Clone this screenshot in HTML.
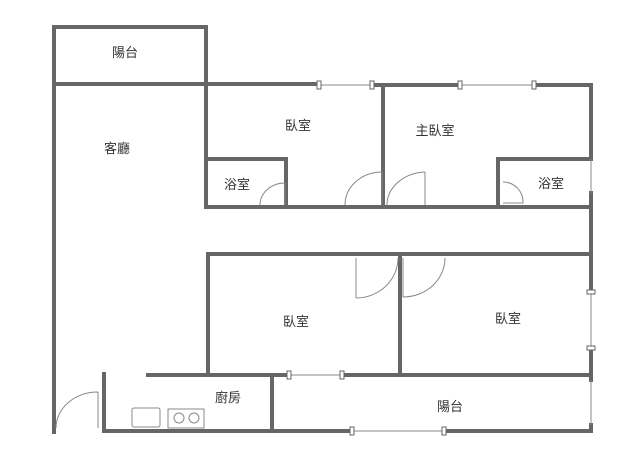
<!DOCTYPE html><html><head><style>body{margin:0;background:#fff}svg{display:block}text{font-family:"Liberation Sans","Noto Sans CJK TC",sans-serif;font-size:13px;fill:#333;text-anchor:middle}</style></head><body>
<svg width="640" height="461" viewBox="0 0 640 461">
<g stroke="#666" stroke-width="4" fill="none" stroke-linecap="square">
<path d="M54 27H206V84M54 27V432M54 84H319M372 85H460M534 85H591V159M591 193V254M591 290V255M591 348V380M208 207H591M206 84V207M206 159H286V205M383 85V207M498 207V159H591M208 375V254H591M400 254V375M148 375H289M342 375H591V380M104 374V431H352M444 431H591V425M272 375V431"/>
</g>
<g stroke="#888" stroke-width="1" fill="none">
<line x1="319" y1="85" x2="372" y2="85"/><line x1="460" y1="85" x2="534" y2="85"/>
<line x1="591" y1="159" x2="591" y2="193"/><line x1="591" y1="292" x2="591" y2="348"/>
<line x1="591" y1="380" x2="591" y2="425"/>
<line x1="289" y1="375" x2="342" y2="375"/><line x1="352" y1="431" x2="444" y2="431"/>
<path d="M285 183A25 22 0 0 0 260 205M285 183V205"/>
<path d="M382 172A37 33 0 0 0 345 205M382 172V205"/>
<path d="M425 172A40 33 0 0 0 387 205M425 172V205"/>
<path d="M503 182A20 20 0 0 1 523 203H503"/>
<path d="M356 298A42 40 0 0 0 398 258M356 258V298"/>
<path d="M403 297A42 39 0 0 0 445 258M403 258V297"/>
<path d="M98 392A42 36 0 0 0 56 428M98 392V428"/>
<rect x="132" y="408" width="28" height="19" rx="2"/><rect x="168" y="409" width="36" height="19"/>
<circle cx="179" cy="418" r="5"/><circle cx="194" cy="418" r="5"/>
</g>
<g fill="#fff" stroke="#666" stroke-width="1">
<rect x="317" y="81" width="4" height="8"/><rect x="370" y="81" width="4" height="8"/>
<rect x="458" y="81" width="4" height="8"/><rect x="532" y="81" width="4" height="8"/>
<rect x="587" y="290" width="8" height="4"/><rect x="587" y="346" width="8" height="4"/>
<rect x="287" y="371" width="4" height="8"/><rect x="340" y="371" width="4" height="8"/>
<rect x="350" y="427" width="4" height="8"/><rect x="442" y="427" width="4" height="8"/>
</g>
<text x="125" y="57">陽台</text><text x="117" y="153">客廳</text><text x="298" y="130">臥室</text>
<text x="435" y="135">主臥室</text><text x="237" y="189">浴室</text><text x="551" y="188">浴室</text>
<text x="296" y="326">臥室</text><text x="508" y="323">臥室</text><text x="228" y="402">廚房</text><text x="450" y="411">陽台</text>
</svg></body></html>
